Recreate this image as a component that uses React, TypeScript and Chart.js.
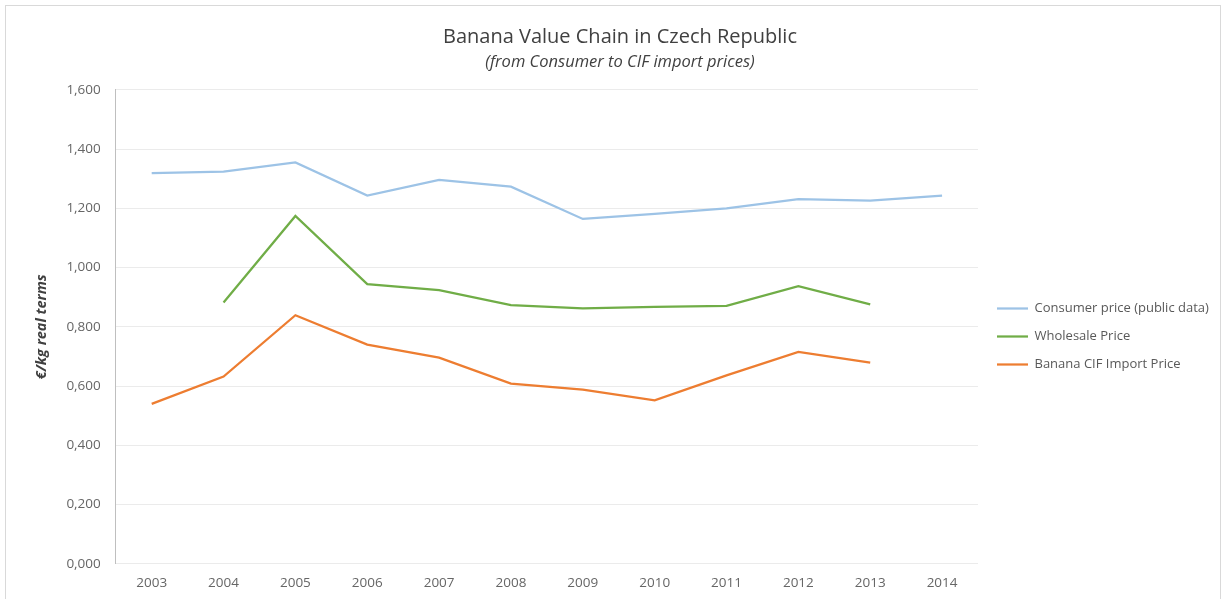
import React, { useEffect, useRef } from "react";
import { Chart, registerables } from "chart.js";

Chart.register(...registerables);

const years = ["2003", "2004", "2005", "2006", "2007", "2008", "2009", "2010", "2011", "2012", "2013", "2014"];
const consumerPrice = [1.319, 1.324, 1.355, 1.243, 1.296, 1.273, 1.164, 1.181, 1.2, 1.231, 1.226, 1.243];
const wholesalePrice = [null, 0.882, 1.174, 0.944, 0.924, 0.873, 0.862, 0.867, 0.871, 0.937, 0.876, null];
const cifImportPrice = [0.54, 0.632, 0.839, 0.74, 0.696, 0.608, 0.588, 0.552, 0.636, 0.715, 0.679, null];

const seriesNames = ["Consumer price (public data)", "Wholesale Price", "Banana CIF Import Price"];
const seriesColors = ["#9DC3E6", "#70AD47", "#ED7D31"];

const FONT = "'Open Sans', Lato, sans-serif";
const LEGEND_PAD = 15;

const legendPlacement = {
  id: "legendPlacement",
  beforeLayout(chart: any) {
    const lg = chart.legend;
    if (lg && !lg._patched) {
      const orig = lg.fit.bind(lg);
      lg.fit = () => {
        orig();
        lg.width = 240;
      };
      lg._patched = true;
    }
  },
  afterLayout(chart: any) {
    const lg = chart.legend;
    if (!lg) return;
    const left = chart.chartArea.right + 19 - LEGEND_PAD;
    lg.right = lg.right + (left - lg.left);
    lg.left = left;
    lg.top += 23;
    lg.bottom += 23;
  },
};

export default function App() {
  const ref = useRef<HTMLCanvasElement | null>(null);

  useEffect(() => {
    if (!ref.current) return;
    const data = [consumerPrice, wholesalePrice, cifImportPrice];
    const chart = new Chart(ref.current, {
      type: "line",
      data: {
        labels: years,
        datasets: data.map((d, i) => ({
          label: seriesNames[i],
          data: d as (number | null)[],
          borderColor: seriesColors[i],
          backgroundColor: seriesColors[i],
          borderWidth: 2.25,
          pointRadius: 0,
          pointHoverRadius: 0,
          tension: 0,
          fill: false,
        })),
      },
      plugins: [legendPlacement],
      options: {
        responsive: false,
        animation: false,
        layout: { padding: { left: 22, right: 8, top: 25, bottom: 0 } },
        plugins: {
          title: {
            display: true,
            text: "Banana Value Chain in Czech Republic",
            color: "#404040",
            font: { family: FONT, size: 20, weight: "normal" },
            padding: { top: 0, bottom: 3 },
          },
          subtitle: {
            display: true,
            text: "(from Consumer to CIF import prices)",
            color: "#404040",
            font: { family: FONT, size: 16.5, style: "italic" },
            padding: { top: 0, bottom: 18 },
          },
          legend: {
            position: "right",
            labels: {
              usePointStyle: true,
              pointStyle: "line",
              pointStyleWidth: 31,
              padding: LEGEND_PAD,
              color: "#595959",
              font: { family: FONT, size: 13 },
            },
          },
          tooltip: { enabled: false },
        },
        scales: {
          x: {
            offset: true,
            grid: { display: false, drawTicks: false },
            border: { display: false },
            ticks: { color: "#666666", font: { family: FONT, size: 13.5 }, padding: 11 },
          },
          y: {
            min: 0,
            max: 1.6,
            ticks: {
              stepSize: 0.2,
              color: "#666666",
              font: { family: FONT, size: 13.5 },
              padding: 15,
              callback: (v: any) => Number(v).toFixed(3).replace(".", ","),
            },
            grid: { color: "#EBEBEB", drawTicks: false },
            border: { display: true, color: "#BFBFBF" },
            title: {
              display: true,
              text: "€/kg real terms",
              color: "#404040",
              font: { family: FONT, size: 14.5, style: "italic", weight: "bold" },
              padding: { top: 11, bottom: 1 },
            },
          },
        },
      },
    });
    return () => chart.destroy();
  }, []);

  return (
    <div style={{ position: "absolute", left: 0, top: 0, width: 1226, height: 599, background: "#fff", overflow: "hidden" }}>
      <div style={{ position: "absolute", left: 5, top: 5, width: 1214, height: 600, border: "1px solid #D9D9D9" }} />
      <canvas ref={ref} width={1226} height={602} style={{ position: "absolute", left: 0, top: 0 }} />
    </div>
  );
}
